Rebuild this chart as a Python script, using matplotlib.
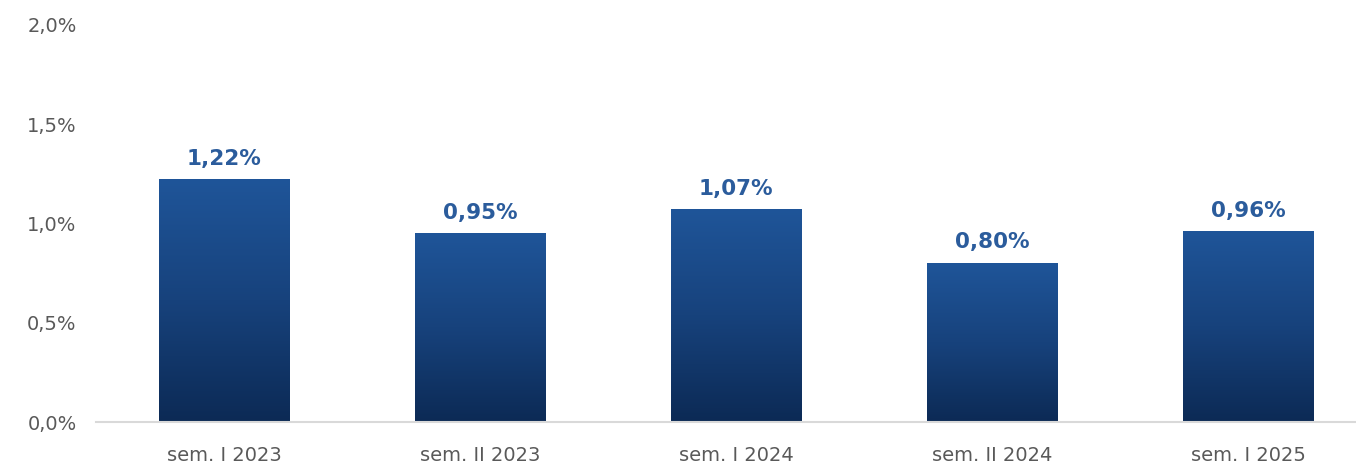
import matplotlib.pyplot as plt
import numpy as np
from matplotlib.colors import LinearSegmentedColormap

# Data
categories = ['sem. I 2023', 'sem. II 2023', 'sem. I 2024', 'sem. II 2024', 'sem. I 2025']
values = [1.22, 0.95, 1.07, 0.80, 0.96]
labels = ['1,22%', '0,95%', '1,07%', '0,80%', '0,96%']
yticks = [0.0, 0.5, 1.0, 1.5, 2.0]
ytick_labels = ['0,0%', '0,5%', '1,0%', '1,5%', '2,0%']

fig = plt.figure(figsize=(13.56, 4.68), dpi=100)
ax = fig.add_axes([96 / 1356, 46 / 468, 1280 / 1356, 397 / 468])

cmap = LinearSegmentedColormap.from_list('bar', ['#0c2a55', '#17427c', '#1f5599'])
grad = np.linspace(0, 1, 256).reshape(-1, 1)
width = 0.51

x = np.arange(len(categories))
bars = ax.bar(x, values, width=width, color='none', edgecolor='none')
for b in bars:
    x0, y0 = b.get_x(), b.get_y()
    ax.imshow(grad, cmap=cmap, aspect='auto', origin='lower',
              extent=[x0, x0 + b.get_width(), y0, y0 + b.get_height()], zorder=2)

for xi, v, lab in zip(x, values, labels):
    ax.text(xi, v + 0.055, lab, ha='center', va='bottom', fontsize=15.5,
            fontweight='bold', color='#2b5c9c')

ax.set_xlim(-0.5, len(categories) - 0.5)
ax.set_ylim(0, 2.0)
ax.set_yticks(yticks)
ax.set_yticklabels(ytick_labels)
ax.set_xticks(x)
ax.set_xticklabels(categories)
ax.tick_params(axis='both', length=0, labelsize=14, labelcolor='#595959')
ax.tick_params(axis='y', pad=14)
ax.tick_params(axis='x', pad=17)

for s in ['top', 'right', 'left']:
    ax.spines[s].set_visible(False)
ax.spines['bottom'].set_color('#d9d9d9')
ax.spines['bottom'].set_linewidth(1.5)

fig.savefig('out.png', dpi=100)
